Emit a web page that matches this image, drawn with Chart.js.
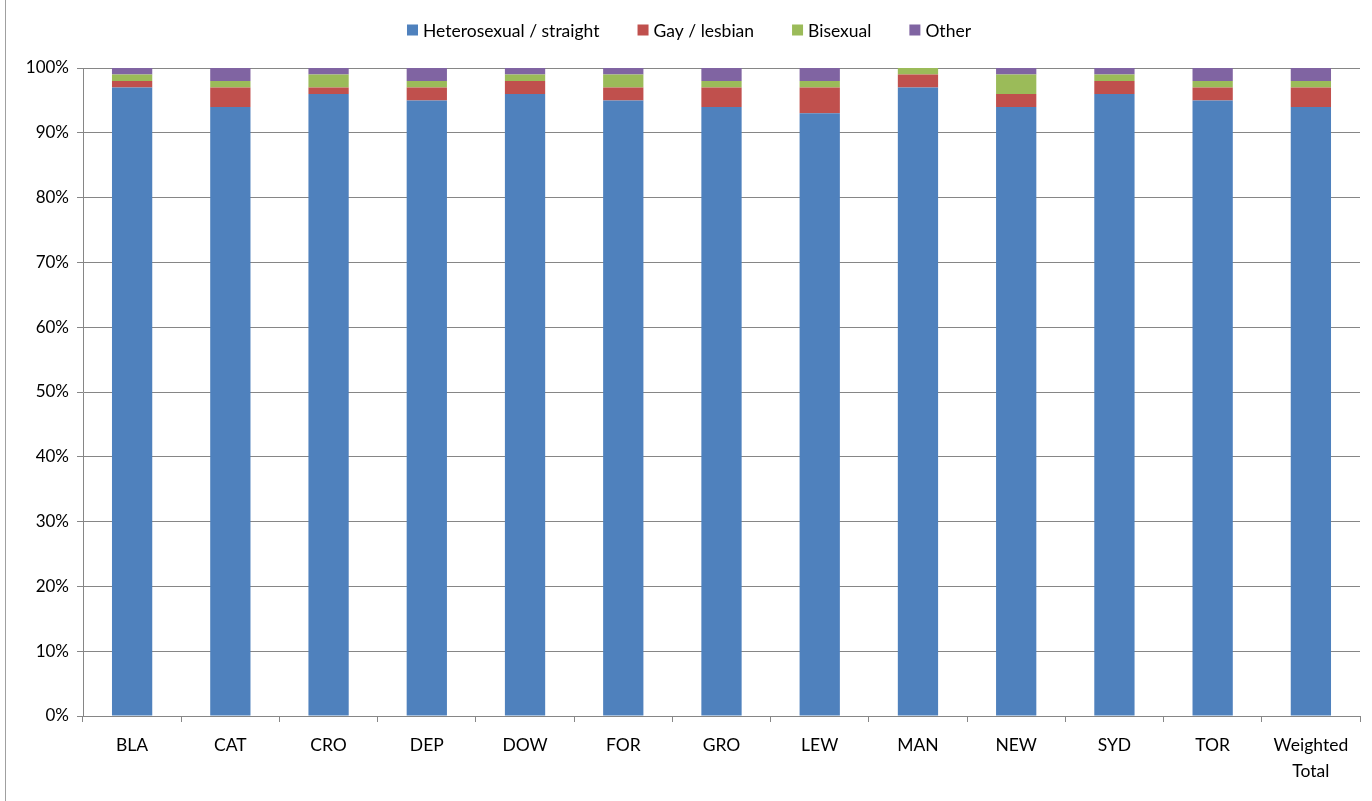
<!DOCTYPE html>
<html>
<head>
<meta charset="utf-8">
<script src="https://cdn.jsdelivr.net/npm/chart.js@4/dist/chart.umd.min.js"></script>
<style>
  html, body { margin: 0; padding: 0; background: #fff; }
  #wrap { position: relative; width: 1372px; height: 801px; }
  #frame { position: absolute; left: 5px; top: 0; width: 1px; height: 801px; background: #a0a0a0; }
</style>
</head>
<body>
<div id="wrap">
  <div id="frame"></div>
  <canvas id="myChart" width="1372" height="801"></canvas>
</div>
<script>
var categories = ['BLA', 'CAT', 'CRO', 'DEP', 'DOW', 'FOR', 'GRO', 'LEW', 'MAN', 'NEW', 'SYD', 'TOR', ['Weighted', 'Total']];
var straight = [97, 94, 96, 95, 96, 95, 94, 93, 97, 94, 96, 95, 94];
var gay      = [1, 3, 1, 2, 2, 2, 3, 4, 2, 2, 2, 2, 3];
var bisexual = [1, 1, 2, 1, 1, 2, 1, 1, 1, 3, 1, 1, 1];
var other    = [1, 2, 1, 2, 1, 1, 2, 2, 0, 1, 1, 2, 2];
var yTicks = [0, 10, 20, 30, 40, 50, 60, 70, 80, 90, 100];

var FONT = 'Lato, "Open Sans", sans-serif';

// legend drawn by hand so the item spacing can be wide while the strip stays short
var topLegend = {
    id: 'topLegend',
    afterDraw: function (chart) {
        var ctx = chart.ctx;
        var sets = chart.data.datasets;
        var box = 11, gap = 5, spacing = 38;
        ctx.save();
        ctx.font = '17.5px ' + FONT;
        ctx.textBaseline = 'middle';
        var total = 0;
        sets.forEach(function (ds, i) {
            total += box + gap + ctx.measureText(ds.label).width;
            if (i < sets.length - 1) total += spacing;
        });
        var x = (chart.width - total) / 2 + 3;
        var y = 30;
        sets.forEach(function (ds) {
            ctx.fillStyle = ds.backgroundColor;
            ctx.fillRect(x, y - box / 2, box, box);
            x += box + gap;
            ctx.fillStyle = '#000';
            ctx.fillText(ds.label, x, y + 1);
            x += ctx.measureText(ds.label).width + spacing;
        });
        ctx.restore();
    }
};

function makeSet(label, data, color) {
    return {
        label: label,
        data: data,
        backgroundColor: color,
        borderWidth: 0,
        barPercentage: 0.41,
        categoryPercentage: 1
    };
}

var ctx = document.getElementById('myChart').getContext('2d');
var myChart = new Chart(ctx, {
    type: 'bar',
    data: {
        labels: categories,
        datasets: [
            makeSet('Heterosexual / straight', straight, '#4F81BD'),
            makeSet('Gay / lesbian', gay, '#C0504D'),
            makeSet('Bisexual', bisexual, '#9BBB59'),
            makeSet('Other', other, '#8064A2')
        ]
    },
    options: {
        responsive: false,
        animation: false,
        layout: { padding: { top: 68, right: 12, left: 0, bottom: 0 } },
        plugins: {
            legend: { display: false },
            tooltip: { enabled: false }
        },
        scales: {
            x: {
                stacked: true,
                offset: true,
                grid: {
                    offset: true,
                    drawOnChartArea: false,
                    color: '#868686',
                    tickLength: 6
                },
                border: { color: '#868686', width: 1 },
                ticks: {
                    color: '#000',
                    font: { family: FONT, size: 17.5, lineHeight: 1.45 },
                    padding: 11,
                    maxRotation: 0,
                    autoSkip: false
                },
                afterFit: function (scale) { scale.height = 85; }
            },
            y: {
                stacked: true,
                min: 0,
                max: 100,
                afterBuildTicks: function (scale) {
                    scale.ticks = yTicks.map(function (v) { return { value: v }; });
                },
                grid: { color: '#868686', tickLength: 6 },
                border: { color: '#868686', width: 1 },
                ticks: {
                    color: '#000',
                    font: { family: FONT, size: 17 },
                    padding: 8,
                    callback: function (v) { return v + '%'; }
                },
                afterFit: function (scale) { scale.width = 83; }
            }
        }
    },
    plugins: [topLegend]
});
</script>
</body>
</html>
